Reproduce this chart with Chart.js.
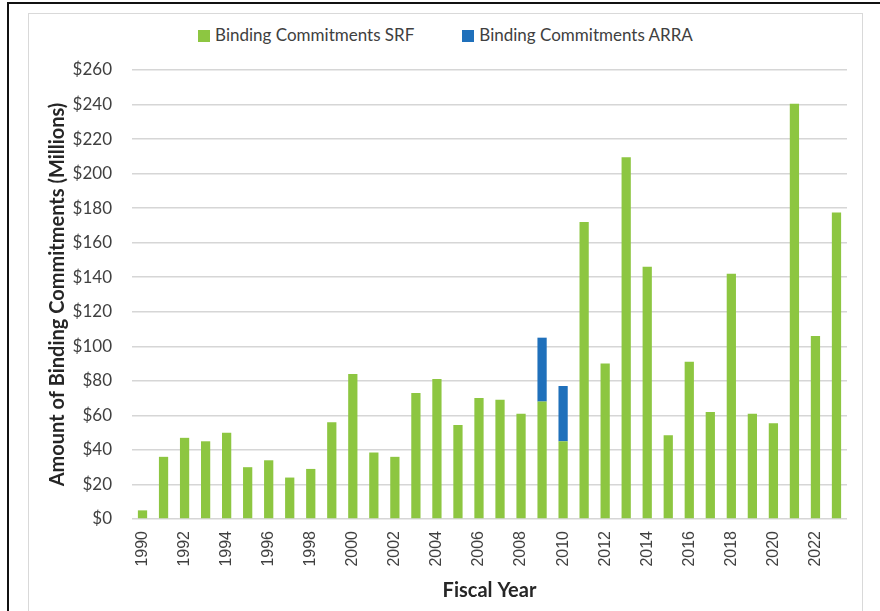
<!DOCTYPE html>
<html>
<head>
<meta charset="utf-8">
<script src="https://cdn.jsdelivr.net/npm/chart.js@4"></script>
<style>
  body { margin: 0; background: #fff; width: 880px; height: 611px; overflow: hidden; position: relative; }
  #outer { position: absolute; left: 7px; top: 2px; width: 900px; height: 700px; border-left: 2px solid #111; border-top: 2px solid #111; }
  #frame { position: absolute; left: 28px; top: 13px; width: 833px; height: 700px; border: 1px solid #d9d9d9; }
  #legend { position: absolute; left: 29px; top: 24px; width: 833px; text-align: center; font: 17px Lato, sans-serif; color: #404040; }
  #legend span.item { display: inline-block; margin: 0 24px; }
  #legend span.box { display: inline-block; width: 12px; height: 12px; margin-right: 5px; vertical-align: -1px; }
  #grafico { position: absolute; left: 29px; top: 14px; }
</style>
</head>
<body>
<div id="outer"></div>
<div id="frame"></div>
<div id="legend"></div>
<canvas id="grafico" width="832" height="597"></canvas>
<script>
// Anos fiscais
const anos = [];
for (let a = 1990; a <= 2023; a++) anos.push(String(a));

// Compromissos SRF (milhões)
const valoresSRF = [5, 36, 47, 45, 50, 30, 34, 24, 29, 56, 84, 38.5, 36, 73, 81, 54.5, 70, 69, 61, 68, 45, 172, 90, 209.5, 146, 48.5, 91, 62, 142, 61, 55.5, 240.5, 106, 177.5];

// Compromissos ARRA (milhões) - só 2009 e 2010
const valoresARRA = [null, null, null, null, null, null, null, null, null, null, null, null, null, null, null, null, null, null, null, 37, 32, null, null, null, null, null, null, null, null, null, null, null, null, null];

const nomes = ["Binding Commitments SRF", "Binding Commitments ARRA"];
const cores = ["#8dc641", "#1f70bb"];

// Legenda em HTML
document.getElementById("legend").innerHTML = nomes.map((n, i) =>
  `<span class="item"><span class="box" style="background:${cores[i]}"></span>${n}</span>`).join("");

const ctx = document.getElementById("grafico").getContext("2d");
const grafico = new Chart(ctx, {
  type: 'bar',
  data: {
    labels: anos,
    datasets: [
      { label: nomes[0], data: valoresSRF, backgroundColor: cores[0], barPercentage: 0.44, categoryPercentage: 1 },
      { label: nomes[1], data: valoresARRA, backgroundColor: cores[1], barPercentage: 0.44, categoryPercentage: 1 }
    ]
  },
  options: {
    responsive: false,
    animation: false,
    layout: { padding: { left: 10, right: 14, top: 56, bottom: 4 } },
    plugins: { legend: { display: false }, tooltip: { enabled: false } },
    scales: {
      x: {
        stacked: true,
        grid: { display: false, drawTicks: false },
        border: { display: false },
        afterFit: s => { s.height = 88; s.paddingLeft = 0; s.paddingRight = 0; },
        ticks: {
          autoSkip: false,
          minRotation: 90,
          maxRotation: 90,
          padding: 12,
          color: '#404040',
          font: { family: 'Liberation Sans', size: 16 },
          callback: (v, i) => i % 2 === 0 ? anos[i] : ''
        },
        title: {
          display: true,
          text: 'Fiscal Year',
          color: '#262626',
          font: { family: 'Lato', size: 20, weight: 'bold' },
          padding: { top: 4, bottom: 4 }
        }
      },
      y: {
        stacked: true,
        min: 0,
        max: 260,
        grid: { color: '#d6d6d6', lineWidth: 1.5, drawTicks: false },
        border: { display: false },
        afterFit: s => { s.width = 93; },
        ticks: {
          stepSize: 20,
          padding: 20,
          color: '#404040',
          font: { family: 'Lato', size: 17 },
          callback: v => '$' + v
        },
        title: {
          display: true,
          text: 'Amount of Binding Commitments (Millions)',
          color: '#262626',
          font: { family: 'Lato', size: 20, weight: 'bold' },
          padding: { top: 7, bottom: 10 }
        }
      }
    }
  }
});
</script>
</body>
</html>
